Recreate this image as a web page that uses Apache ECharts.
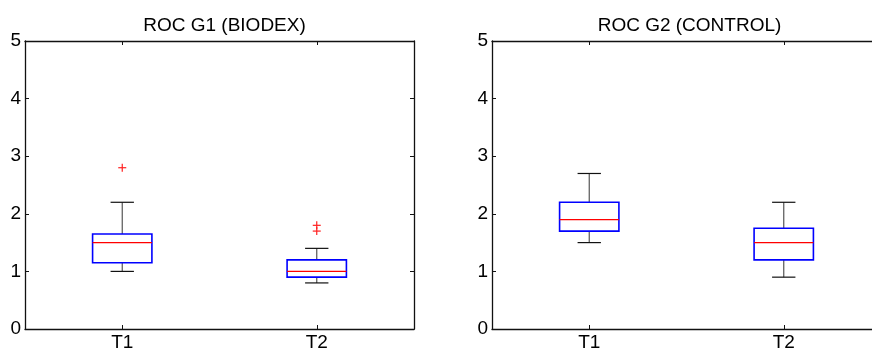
<!DOCTYPE html>
<html>
<head>
<meta charset="utf-8">
<script src="https://cdn.jsdelivr.net/npm/echarts@6/dist/echarts.min.js"></script>
<style>
  html, body { margin: 0; padding: 0; background: #fff; }
  #chart { width: 872px; height: 351px; }
</style>
</head>
<body>
<div id="chart"></div>
<script>
// Session labels on the x axis
const categories = ['T1', 'T2'];
// Y axis ticks
const yTicks = [0, 1, 2, 3, 4, 5];

// Box statistics per session: [lower whisker, Q1, median, Q3, upper whisker]
const g1Stats = [
  [1.0, 1.15, 1.5, 1.65, 2.2],
  [0.8, 0.9, 1.0, 1.2, 1.4]
];
const g2Stats = [
  [1.5, 1.7, 1.9, 2.2, 2.7],
  [0.9, 1.2, 1.5, 1.75, 2.2]
];
// Outliers: [category index, value]
const g1Outliers = [[0, 2.8], [1, 1.8], [1, 1.7]];
const g2Outliers = [];

const titles = ['ROC G1 (BIODEX)', 'ROC G2 (CONTROL)'];

const FONT = 'Liberation Sans, Arial, Helvetica, sans-serif';
// The second panel runs past the right edge of the canvas on purpose
const grids = [
  { left: 25, top: 41, width: 389, height: 288, outerBoundsMode: 'none', containLabel: false },
  { left: 492, top: 41, width: 389, height: 288, outerBoundsMode: 'none', containLabel: false }
];

function boxItem(params, api) {
  const x = api.value(0);
  const band = api.size([1, 0])[0];
  const boxW = band * 0.305;
  const capW = band * 0.12;
  const pLow = api.coord([x, api.value(1)]);
  const pQ1 = api.coord([x, api.value(2)]);
  const pMed = api.coord([x, api.value(3)]);
  const pQ3 = api.coord([x, api.value(4)]);
  const pHigh = api.coord([x, api.value(5)]);
  const cx = pMed[0];
  const stem = { stroke: '#555', lineWidth: 1.2 };
  const cap = { stroke: '#111', lineWidth: 1.2 };
  return {
    type: 'group',
    children: [
      { type: 'line', shape: { x1: cx, y1: pQ3[1], x2: cx, y2: pHigh[1] }, style: stem },
      { type: 'line', shape: { x1: cx, y1: pQ1[1], x2: cx, y2: pLow[1] }, style: stem },
      { type: 'line', shape: { x1: cx - capW / 2, y1: pHigh[1], x2: cx + capW / 2, y2: pHigh[1] }, style: cap },
      { type: 'line', shape: { x1: cx - capW / 2, y1: pLow[1], x2: cx + capW / 2, y2: pLow[1] }, style: cap },
      { type: 'rect', shape: { x: cx - boxW / 2, y: pQ3[1], width: boxW, height: pQ1[1] - pQ3[1] },
        style: { fill: 'none', stroke: '#0000ff', lineWidth: 1.6 } },
      { type: 'line', shape: { x1: cx - boxW / 2, y1: pMed[1], x2: cx + boxW / 2, y2: pMed[1] },
        style: { stroke: '#ff0000', lineWidth: 1.3 } }
    ]
  };
}

function plusItem(params, api) {
  const p = api.coord([api.value(0), api.value(1)]);
  const h = 4;
  const st = { stroke: '#ff2020', lineWidth: 1.2 };
  return {
    type: 'group',
    children: [
      { type: 'line', shape: { x1: p[0] - h, y1: p[1], x2: p[0] + h, y2: p[1] }, style: st },
      { type: 'line', shape: { x1: p[0], y1: p[1] - h, x2: p[0], y2: p[1] + h }, style: st }
    ]
  };
}

const axisLine = { show: true, onZero: false, lineStyle: { color: '#111', width: 1.3 } };
const axisTick = { show: true, inside: true, length: 4, lineStyle: { color: '#111', width: 1 } };

const xAxis = [], yAxis = [], series = [], title = [];
grids.forEach((g, i) => {
  xAxis.push({
    type: 'category', gridIndex: i, data: categories, position: 'bottom',
    axisLine, axisTick: Object.assign({ alignWithLabel: true }, axisTick),
    axisLabel: { color: '#000', fontSize: 19, fontFamily: FONT, margin: 4 },
    splitLine: { show: false }
  });
  xAxis.push({
    type: 'category', gridIndex: i, data: categories, position: 'top',
    axisLine, axisTick: Object.assign({ alignWithLabel: true }, axisTick),
    axisLabel: { show: false }, splitLine: { show: false }
  });
  yAxis.push({
    type: 'value', gridIndex: i, min: yTicks[0], max: yTicks[yTicks.length - 1], interval: 1,
    position: 'left', axisLine, axisTick,
    axisLabel: { color: '#000', fontSize: 19, fontFamily: FONT, margin: 4 },
    splitLine: { show: false }
  });
  yAxis.push({
    type: 'value', gridIndex: i, min: yTicks[0], max: yTicks[yTicks.length - 1], interval: 1,
    position: 'right', axisLine, axisTick, axisLabel: { show: false }, splitLine: { show: false }
  });
  title.push({
    text: titles[i],
    left: g.left + g.width / 2 - (i === 1 ? 2 : 0),
    textAlign: 'center',
    top: 11,
    textStyle: { color: '#000', fontSize: 19, fontWeight: 'normal', fontFamily: FONT }
  });
});

const statSets = [g1Stats, g2Stats];
const outlierSets = [g1Outliers, g2Outliers];
statSets.forEach((stats, i) => {
  series.push({
    type: 'custom', xAxisIndex: i * 2, yAxisIndex: i * 2,
    renderItem: boxItem,
    encode: { x: 0, y: [1, 2, 3, 4, 5] },
    data: stats.map((s, k) => [k].concat(s)),
    silent: true, animation: false
  });
  series.push({
    type: 'custom', xAxisIndex: i * 2, yAxisIndex: i * 2,
    renderItem: plusItem,
    encode: { x: 0, y: 1 },
    data: outlierSets[i],
    silent: true, animation: false
  });
});

const chart = echarts.init(document.getElementById('chart'), null, { renderer: 'canvas' });
chart.setOption({
  backgroundColor: '#fff',
  animation: false,
  title,
  grid: grids,
  xAxis,
  yAxis,
  series
});
</script>
</body>
</html>
